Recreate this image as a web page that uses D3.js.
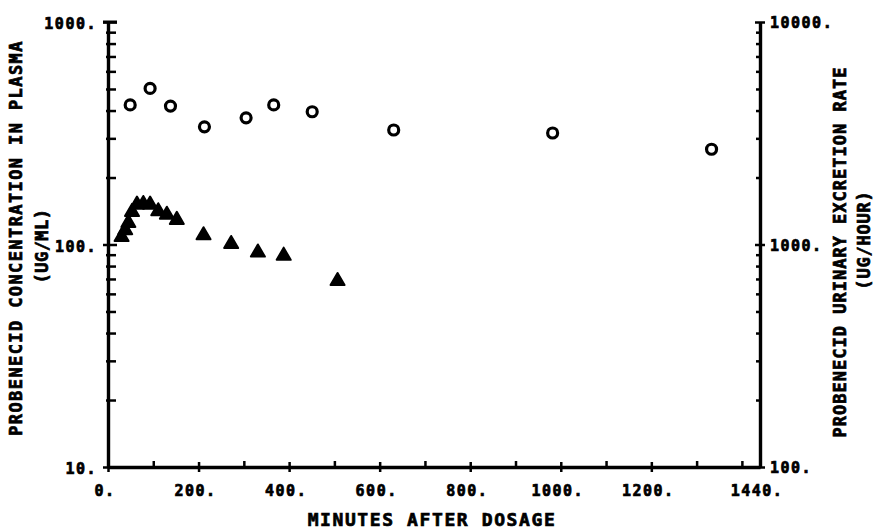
<!DOCTYPE html>
<html>
<head>
<meta charset="utf-8">
<script src="https://d3js.org/d3.v7.min.js"></script>
<style>
  body { margin: 0; background: #fff; }
  text { font-family: "DejaVu Sans Mono", monospace; font-weight: bold; fill: #000; stroke: #000; stroke-width: 0.7px; }
</style>
</head>
<body>
<div id="chart"></div>
<script>
// Data
// plasma concentration (ug/ml), left axis, triangles
var plasmaMinutes = [30, 38, 45, 53, 64, 78, 93, 111, 130, 152, 211, 272, 331, 388, 507];
var plasmaConc    = [108, 116, 125, 140, 151, 152, 151, 141, 136, 129, 110, 100.5, 92, 89, 68.5];

// urinary excretion rate (ug/hour), right axis, circles
var urineMinutes = [49, 93, 138, 213, 305, 366, 451, 631, 982, 1333];
var urineRate    = [4240, 5030, 4190, 3380, 3710, 4240, 3950, 3270, 3170, 2680];

var xTicksMajor = [0, 200, 400, 600, 800, 1000, 1200, 1440];
var xTicksMinor = [100, 300, 500, 700, 900, 1100, 1300, 1400];
var xTickLabels = ["0.", "200.", "400.", "600.", "800.", "1000.", "1200.", "1440."];
var leftTickLabels  = ["10.", "100.", "1000."];
var rightTickLabels = ["100.", "1000.", "10000."];

var width = 876, height = 531;
var plot = {left: 108, right: 760, top: 22, bottom: 467};

var svg = d3.select("#chart").append("svg")
    .attr("width", width)
    .attr("height", height);

var x = d3.scaleLinear().domain([0, 1440]).range([plot.left, plot.right]);
var yL = d3.scaleLog().domain([10, 1000]).range([plot.bottom, plot.top]);
var yR = d3.scaleLog().domain([100, 10000]).range([plot.bottom, plot.top]);

// log ticks 1..9 per decade
function logTicks(lo, hi) {
    var t = [];
    for (var d = lo; d < hi; d *= 10)
        for (var k = 1; k < 10; k++) t.push(d * k);
    t.push(hi);
    return t;
}
function isMajor(v) { return Math.abs(Math.log10(v) - Math.round(Math.log10(v))) < 1e-9; }

// Left axis
var gL = svg.append("g").attr("transform", "translate(" + plot.left + ",0)")
    .call(d3.axisRight(yL).tickValues(logTicks(10, 1000)).tickFormat("").tickSizeOuter(0));
gL.selectAll(".tick line")
    .attr("x1", function (d) { return isMajor(d) ? -5 : -2; })
    .attr("x2", function (d) { return isMajor(d) ? 9 : 8; });

// Right axis
var gR = svg.append("g").attr("transform", "translate(" + plot.right + ",0)")
    .call(d3.axisLeft(yR).tickValues(logTicks(100, 10000)).tickFormat("").tickSizeOuter(0));
gR.selectAll(".tick line")
    .attr("x1", function (d) { return isMajor(d) ? 5 : 1; })
    .attr("x2", function (d) { return isMajor(d) ? -5 : -4; });

// Bottom axis
var gB = svg.append("g").attr("transform", "translate(0," + plot.bottom + ")")
    .call(d3.axisTop(x).tickValues(xTicksMajor.concat(xTicksMinor)).tickFormat("").tickSizeOuter(0));
gB.selectAll(".tick line")
    .attr("y1", function (d) { return xTicksMajor.indexOf(d) >= 0 && d != 1440 ? 5 : 1; })
    .attr("y2", function (d) { return xTicksMajor.indexOf(d) >= 0 ? -5 : -6; });

svg.selectAll(".domain").attr("stroke-width", 3.4).attr("stroke", "#000");
svg.selectAll(".tick line").attr("stroke-width", 2.5).attr("stroke", "#000");

// top T on left axis
svg.append("line")
    .attr("x1", plot.left - 5).attr("x2", plot.left + 9)
    .attr("y1", yL(1000)).attr("y2", yL(1000))
    .attr("stroke", "#000").attr("stroke-width", 3);

// tick labels
svg.selectAll(".lbl-left").data([10, 100, 1000]).enter().append("text")
    .attr("x", 97).attr("y", function (d) { return yL(d) + 2; })
    .attr("dy", "0.36em").attr("text-anchor", "end")
    .style("font-size", "15px").style("letter-spacing", "1.5px")
    .text(function (d, i) { return leftTickLabels[i]; });

svg.selectAll(".lbl-right").data([100, 1000, 10000]).enter().append("text")
    .attr("x", 770).attr("y", function (d) { return yR(d) + 1; })
    .attr("dy", "0.36em").attr("text-anchor", "start")
    .style("font-size", "15px").style("letter-spacing", "1.5px")
    .text(function (d, i) { return rightTickLabels[i]; });

svg.selectAll(".lbl-x").data(xTicksMajor).enter().append("text")
    .attr("x", function (d) { return x(d) - 3; }).attr("y", 491)
    .attr("dy", "0.36em").attr("text-anchor", "middle")
    .style("font-size", "15px").style("letter-spacing", "1.5px")
    .text(function (d, i) { return xTickLabels[i]; });

// axis titles
svg.append("text")
    .attr("x", 432).attr("y", 520).attr("dy", "0.36em")
    .attr("text-anchor", "middle")
    .style("font-size", "18px").style("letter-spacing", "1.6px")
    .text("MINUTES AFTER DOSAGE");

svg.append("text")
    .attr("transform", "translate(16,238) rotate(-90)")
    .attr("dy", "0.36em").attr("text-anchor", "middle")
    .style("font-size", "17px").style("letter-spacing", "1.4px")
    .text("PROBENECID CONCENTRATION IN PLASMA");
svg.append("text")
    .attr("transform", "translate(42,246) rotate(-90)")
    .attr("dy", "0.36em").attr("text-anchor", "middle")
    .style("font-size", "17px").style("letter-spacing", "0.5px")
    .text("(UG/ML)");

svg.append("text")
    .attr("transform", "translate(840,252) rotate(-90)")
    .attr("dy", "0.36em").attr("text-anchor", "middle")
    .style("font-size", "17px").style("letter-spacing", "1px")
    .text("PROBENECID URINARY EXCRETION RATE");
svg.append("text")
    .attr("transform", "translate(864,240) rotate(-90)")
    .attr("dy", "0.36em").attr("text-anchor", "middle")
    .style("font-size", "17px").style("letter-spacing", "0.8px")
    .text("(UG/HOUR)");

// triangles - plasma
var tri = d3.symbol().type(d3.symbolTriangle).size(85);
svg.selectAll(".tri").data(plasmaMinutes).enter().append("path")
    .attr("d", tri)
    .attr("transform", function (d, i) { return "translate(" + x(d) + "," + yL(plasmaConc[i]) + ")"; })
    .attr("fill", "#000").attr("stroke", "#000")
    .attr("stroke-width", 2).attr("stroke-linejoin", "round");

// circles - urine
svg.selectAll(".circ").data(urineMinutes).enter().append("circle")
    .attr("cx", function (d) { return x(d); })
    .attr("cy", function (d, i) { return yR(urineRate[i]); })
    .attr("r", 5)
    .attr("fill", "none").attr("stroke", "#000").attr("stroke-width", 3.2);
</script>
</body>
</html>
